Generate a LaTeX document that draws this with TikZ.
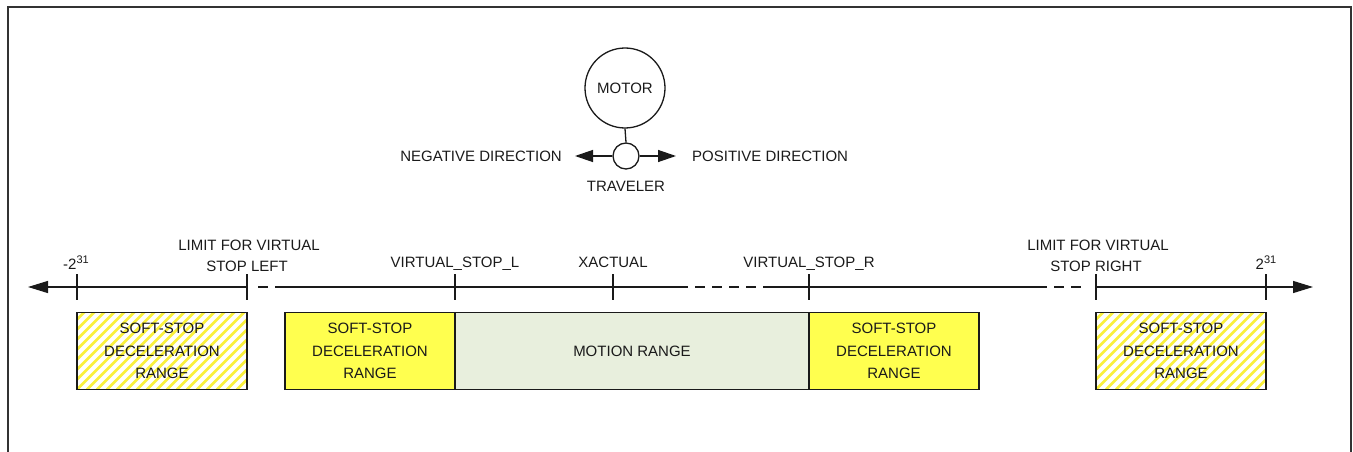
\documentclass[tikz,border=0pt]{standalone}
\usepackage{fontspec}
\setmainfont{Liberation Sans}
\usetikzlibrary{arrows.meta}
\definecolor{ssyellow}{HTML}{FFFF4F}
\definecolor{hatchyellow}{HTML}{FAF03C}
\definecolor{motiongreen}{HTML}{E8EFDD}
\definecolor{inkc}{HTML}{1A1A1A}
\newcommand{\supnum}[1]{\raisebox{6pt}{\fontsize{11}{11}\selectfont #1}}
\begin{document}
\begin{tikzpicture}[x=1pt,y=-1pt,
  lbl/.style={font=\fontsize{15}{21}\selectfont, text=inkc, inner sep=0pt, align=center},
  rangebox/.style={draw=inkc, line width=1.3pt, minimum height=77pt, minimum width=170pt,
    align=center, font=\fontsize{15}{22.5}\selectfont, text=inkc, inner sep=0pt},
  solidbox/.style={rangebox, fill=ssyellow},
  hatchbox/.style={rangebox, fill=white, path picture={
      \foreach \i in {-10,...,18}{
        \draw[hatchyellow, line width=2.6pt]
          ([xshift=\i*10pt]path picture bounding box.south west) -- ++(90pt,90pt);}}},
  axisline/.style={draw=inkc, line width=1.3pt},
  dashseg/.style={axisline, dash pattern=on 10pt off 7pt},
  frame/.style={draw=black!80, line width=2pt}
]
\useasboundingbox (0,0) rectangle (1353,452);
% frame (open at the bottom, as cropped in the reference)
\draw[frame] (8,470) -- (8,7) -- (1351,7) -- (1351,470);

% motor and traveler
\node[draw=inkc, line width=1.3pt, circle, minimum size=80pt, inner sep=0pt,
      font=\fontsize{15}{18}\selectfont, text=inkc] (motor) at (625,88) {MOTOR};
\node[draw=inkc, line width=1.3pt, circle, minimum size=26pt, inner sep=0pt] (trav) at (626,156) {};
\draw[axisline] (motor.south) -- (trav.north);
\coordinate (negtip) at (575,156);
\coordinate (postip) at (676,156);
\draw[axisline, -{Triangle[length=18pt,width=12pt]}] (trav.west) -- (negtip);
\draw[axisline, -{Triangle[length=18pt,width=12pt]}] (trav.east) -- (postip);
\node[lbl, anchor=east] (neg) at (562,156) {NEGATIVE DIRECTION};
\node[lbl, anchor=west] (pos) at (692,156) {POSITIVE DIRECTION};
\node[lbl] (travlbl) at (626,186) {TRAVELER};

% axis coordinates
\coordinate (t1) at (77,287);
\coordinate (t2) at (247,287);
\coordinate (t3) at (455,287);
\coordinate (t4) at (613,287);
\coordinate (t5) at (809,287);
\coordinate (t6) at (1096,287);
\coordinate (t7) at (1266,287);
\coordinate (la) at (28,287);
\coordinate (ra) at (1313,287);
\coordinate (d1s) at (251,287);
\coordinate (d1e) at (275,287);
\coordinate (d2s) at (678,287);
\coordinate (d2e) at (763,287);
\coordinate (d3s) at (1047,287);
\coordinate (d3e) at (1083,287);

\draw[axisline, -{Triangle[length=20pt,width=12pt]}] (t2) -- (la);
\draw[dashseg, dash phase=10pt] (d1s) -- (d1e);
\draw[axisline] (d1e) -- (d2s);
\draw[dashseg] (d2s) -- (d2e);
\draw[axisline] (d2e) -- (d3s);
\draw[dashseg, dash phase=10pt] (d3s) -- (d3e);
\draw[axisline, -{Triangle[length=20pt,width=12pt]}] (t6) -- (ra);
\foreach \t in {t1,t2,t3,t4,t5,t6,t7}{
  \draw[axisline] (\t) ++(0,-13) -- ++(0,26);
}

% labels above the axis
\node[lbl, anchor=base] (lm) at (76,269) {-2\supnum{31}};
\node[lbl, anchor=base] (lp) at (1266,269) {2\supnum{31}};
\node[lbl, anchor=base] (limL2) at (247,271) {STOP LEFT};
\node[lbl, anchor=base] (limL1) at (249,250) {LIMIT FOR VIRTUAL};
\node[lbl, anchor=base] (limR2) at (1096,271) {STOP RIGHT};
\node[lbl, anchor=base] (limR1) at (1098,250) {LIMIT FOR VIRTUAL};
\node[lbl, anchor=base] (vsl) at (455,267) {VIRTUAL\_STOP\_L};
\node[lbl, anchor=base] (xact) at (613,267) {XACTUAL};
\node[lbl, anchor=base] (vsr) at (809,267) {VIRTUAL\_STOP\_R};

% ranges
\node[hatchbox] (b1) at (162,351) {SOFT-STOP\\DECELERATION\\RANGE};
\node[solidbox] (b2) at (370,351) {SOFT-STOP\\DECELERATION\\RANGE};
\node[rangebox, fill=motiongreen, minimum width=354pt] (mr) at (632,351) {MOTION RANGE};
\node[solidbox] (b3) at (894,351) {SOFT-STOP\\DECELERATION\\RANGE};
\node[hatchbox] (b4) at (1181,351) {SOFT-STOP\\DECELERATION\\RANGE};
\end{tikzpicture}
\end{document}
